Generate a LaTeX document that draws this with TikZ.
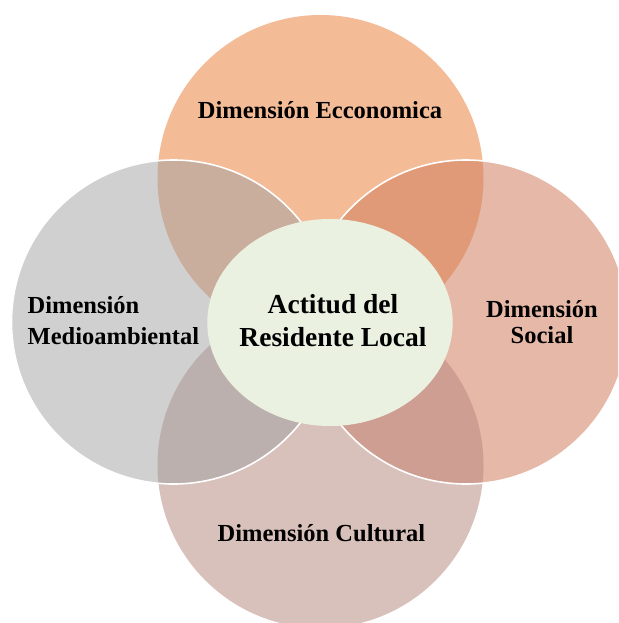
\documentclass[tikz,border=0pt]{standalone}
\usepackage{fontspec}
\setmainfont{Liberation Serif}
\definecolor{ctop}{HTML}{F4BB97}
\definecolor{cleft}{HTML}{D0D0D0}
\definecolor{cright}{HTML}{E6B8A7}
\definecolor{cbot}{HTML}{D9C1BB}
\definecolor{ctl}{HTML}{C9AD9D}
\definecolor{ctr}{HTML}{E09A78}
\definecolor{clb}{HTML}{BBB0AE}
\definecolor{crb}{HTML}{CF9E93}
\definecolor{ccen}{HTML}{EAF1E1}
\tikzset{
  lbl/.style={font=\bfseries\fontsize{24.5}{31}\selectfont, text=black, inner sep=0pt},
  clbl/.style={font=\bfseries\fontsize{27.5}{33}\selectfont, text=black, inner sep=0pt, align=center},
  rim/.style={draw=white, line width=1.6pt}
}
\begin{document}
\begin{tikzpicture}[x=1pt,y=-1pt]
\clip (0,0) rectangle (618,623);
\fill[white] (0,0) rectangle (618,623);
\coordinate (T) at (320.5,178);
\coordinate (B) at (320.5,465);
\coordinate (L) at (173.5,322);
\coordinate (R) at (466,322);
\coordinate (C) at (330,322.5);
% base circles
\fill[ctop] (T) circle[radius=163pt];
\fill[cbot] (B) circle[radius=163pt];
\fill[cleft] (L) circle[radius=162pt];
\fill[cright] (R) circle[radius=162pt];
% overlaps
\begin{scope}
  \clip (L) circle[radius=162pt];
  \fill[ctl] (T) circle[radius=163pt];
  \fill[clb] (B) circle[radius=163pt];
\end{scope}
\begin{scope}
  \clip (R) circle[radius=162pt];
  \fill[ctr] (T) circle[radius=163pt];
  \fill[crb] (B) circle[radius=163pt];
\end{scope}
% white rims
\draw[rim] (L) circle[radius=162pt];
\draw[rim] (R) circle[radius=162pt];
% centre
\fill[ccen] (C) ellipse[x radius=122.7pt, y radius=103.5pt];
% labels
\node[lbl] (top) at (320,110) {Dimensión Ecconomica};
\node[lbl, align=left, anchor=west] (left) at (27.5,321) {Dimensión\\Medioambiental};
\node[lbl, align=center, font=\bfseries\fontsize{24.5}{26}\selectfont] (right) at (542,322) {Dimensión\\Social};
\node[lbl] (bottom) at (321.5,533) {Dimensión Cultural};
\node[clbl] (centre) at (333,320.5) {Actitud del\\Residente Local};
\end{tikzpicture}
\end{document}
